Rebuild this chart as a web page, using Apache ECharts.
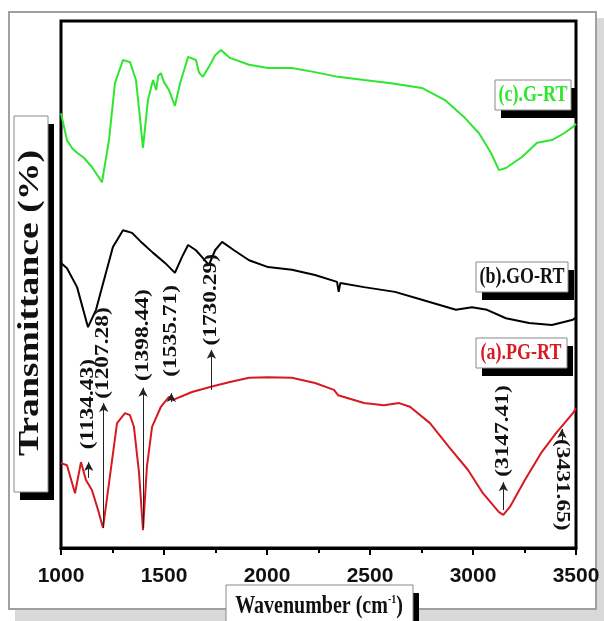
<!DOCTYPE html>
<html>
<head>
<meta charset="utf-8">
<script src="https://cdn.jsdelivr.net/npm/echarts@6.0.0/dist/echarts.min.js"></script>
<style>html,body{margin:0;background:#fff}#chart{width:604px;height:621px}</style>
</head>
<body>
<div id="chart"></div>
<script>
// FTIR spectra, values (transmittance in arbitrary 0-100 units)
const wnG = [1000,1029,1055,1078,1110,1150,1199,1233,1262,1301,1335,1364,1383,1398,1422,1447,1462,1472,1485,1500,1524,1553,1578,1600,1617,1655,1670,1689,1718,1748,1777,1820,1913,2005,2121,2233,2345,2471,2602,2752,2864,2956,3029,3087,3126,3160,3238,3311,3383,3442,3485,3500];
const tG  = [82.5,77.4,75.8,75.0,74.1,72.3,69.4,77.4,88.2,92.6,92.2,88.8,81.8,75.9,85.0,88.8,86.9,89.6,90.1,88.4,86.9,83.9,88.2,91.0,93.2,92.6,90.2,89.4,91.3,93.5,94.5,93.0,91.7,91.1,91.1,90.3,89.4,88.8,88.2,87.3,85.0,81.8,78.7,75.0,71.7,72.1,74.2,76.9,77.4,78.7,79.9,80.5];

const wnK = [1000,1029,1078,1131,1170,1209,1252,1301,1345,1393,1447,1505,1553,1587,1617,1655,1689,1718,1748,1782,1840,1913,2005,2121,2233,2340,2348,2356,2471,2621,2752,2917,2995,3068,3160,3272,3383,3485,3500];
const tK  = [54.1,53.1,49.5,41.9,45.2,50.9,57.1,60.3,59.8,57.9,56.0,54.1,52.2,55.2,57.5,56.5,55.0,53.7,56.5,58.1,56.5,54.6,53.3,52.8,51.8,50.5,48.6,50.3,49.5,48.6,47.1,45.2,45.7,45.2,43.6,42.7,42.3,43.3,43.8];

const wnR = [1000,1029,1068,1097,1121,1150,1180,1204,1233,1272,1311,1335,1354,1379,1398,1417,1442,1485,1524,1544,1636,1728,1820,1913,2005,2121,2233,2325,2345,2471,2568,2641,2694,2791,2883,2976,3048,3126,3147,3179,3252,3330,3403,3485,3500];
const tR  = [16.1,15.7,10.4,16.3,12.9,11.0,7.2,3.8,12.3,23.7,25.6,25.2,23.0,14.2,3.4,15.4,23.0,26.8,28.7,28.1,29.6,30.6,31.5,32.3,32.4,32.3,31.3,30.0,29.0,27.5,27.1,27.5,26.8,23.7,19.2,14.8,10.4,6.8,6.3,7.8,12.9,18.0,21.8,25.6,26.5];

// peak annotations
const annWn   = [1134.43, 1207.28, 1398.44, 1535.71, 1730.29, 3147.41, 3431.65];
const annText = ['(1134.43)','(1207.28)','(1398.44)','(1535.71)','(1730.29)','(3147.41)','(3431.65)'];
const annLow  = [13.3, 3.8, 3.8, 27.7, 30.0, 7.2, 20.1];
const annHigh = [16.3, 27.5, 30.4, 29.4, 37.6, 12.5, 22.6];
const annMid  = [27.3, 37.0, 40.4, 41.2, 47.1, 22.2, 12.0];

const xTicks = [1000, 3500, 500];

const chart = echarts.init(document.getElementById('chart'));
const pairs = (xs, ys) => xs.map((x, i) => [x, ys[i]]);

const serif = '"Liberation Serif", "Times New Roman", serif';

chart.setOption({
  animation: false,
  backgroundColor: '#fff',
  grid: {left: 61, top: 21, right: 28, bottom: 73, show: true, borderColor: '#000', borderWidth: 3, backgroundColor: 'transparent'},
  xAxis: {
    type: 'value', min: xTicks[0], max: xTicks[1], interval: xTicks[2],
    axisLine: {show: true, lineStyle: {color: '#000', width: 3}},
    axisTick: {show: true, inside: false, length: 7, lineStyle: {color: '#000', width: 2}},
    minorTick: {show: true, splitNumber: 2, length: 5, lineStyle: {color: '#000', width: 2}},
    splitLine: {show: false},
    axisLabel: {color: '#111', fontSize: 21, fontWeight: 'bold', fontFamily: '"Liberation Sans", Arial, sans-serif', margin: 18,
      formatter: v => String(v)}
  },
  yAxis: {type: 'value', min: 0, max: 100, show: false},
  series: [
    {name: '(c).G-RT', type: 'line', data: pairs(wnG, tG), showSymbol: false, lineStyle: {color: '#2fe62f', width: 2}, z: 3},
    {name: '(b).GO-RT', type: 'line', data: pairs(wnK, tK), showSymbol: false, lineStyle: {color: '#000', width: 2}, z: 3},
    {name: '(a).PG-RT', type: 'line', data: pairs(wnR, tR), showSymbol: false, lineStyle: {color: '#d71920', width: 2}, z: 3,
      markLine: {
        silent: true, symbol: ['none', 'arrow'], symbolSize: [7, 9],
        lineStyle: {color: '#222', width: 1, type: 'solid'},
        label: {show: false},
        data: annWn.map((w, i) => [{coord: [w, annLow[i]]}, {coord: [w, annHigh[i]]}])
      }
    }
  ]
});

// boxes, axis titles, legend labels
function box(x, y, w, h, z) {
  return [
    {type: 'rect', shape: {x: x + 6, y: y + 8, width: w, height: h}, style: {fill: '#000'}, z: z, silent: true},
    {type: 'rect', shape: {x: x, y: y, width: w, height: h}, style: {fill: '#fff', stroke: '#8a8a8a', lineWidth: 1}, z: z + 1, silent: true}
  ];
}
function label(text, x, y, color, size, opts) {
  return Object.assign({
    type: 'text', x: x, y: y, z: 30, silent: true,
    style: {text: text, fill: color, font: 'bold ' + size + 'px ' + serif,
      align: 'center', verticalAlign: 'middle', textAlign: 'center', textVerticalAlign: 'middle'}
  }, opts || {});
}

const g = [
  {type: 'rect', shape: {x: 15, y: 18, width: 600, height: 620}, style: {fill: '#d9d9d9'}, z: -20, silent: true},
  {type: 'rect', shape: {x: 9, y: 12, width: 587, height: 597}, style: {fill: '#fff', stroke: '#a0a0a0', lineWidth: 2}, z: -19, silent: true}
];
g.push(...box(14, 116, 34, 376, 20));
g.push(label('Transmittance (%)', 31, 303, '#111', 29, {rotation: Math.PI / 2, scaleX: 1.3}));
g.push(...box(226, 585, 187, 45, 20));
g.push({
  type: 'text', x: 319, y: 606, z: 30, silent: true, scaleY: 1.3,
  style: {text: 'Wavenumber (cm{s|-1})', fill: '#111', font: 'bold 20px ' + serif,
    align: 'center', verticalAlign: 'middle', textAlign: 'center', textVerticalAlign: 'middle',
    rich: {s: {font: 'bold 10px ' + serif, fill: '#111', verticalAlign: 'top', padding: [0, 0, 10, 0]}}}
});
g.push(...box(495, 80, 76, 30, 20));
g.push(label('(c).G-RT', 533, 95, '#2fe62f', 18, {scaleY: 1.3}));
g.push(...box(476, 262, 92, 30, 20));
g.push(label('(b).GO-RT', 522, 277, '#111', 18, {scaleY: 1.3}));
g.push(...box(476, 338, 91, 30, 20));
g.push(label('(a).PG-RT', 521, 353, '#d71920', 18, {scaleY: 1.3}));

annWn.forEach((w, i) => {
  const p = chart.convertToPixel({xAxisIndex: 0, yAxisIndex: 0}, [w, annMid[i]]);
  const rot = i === annWn.length - 1 ? -Math.PI / 2 : Math.PI / 2;
  g.push(label(annText[i], p[0], p[1], '#111', 18, {rotation: rot, scaleX: 1.3}));
});

chart.setOption({graphic: g});
</script>
</body>
</html>
